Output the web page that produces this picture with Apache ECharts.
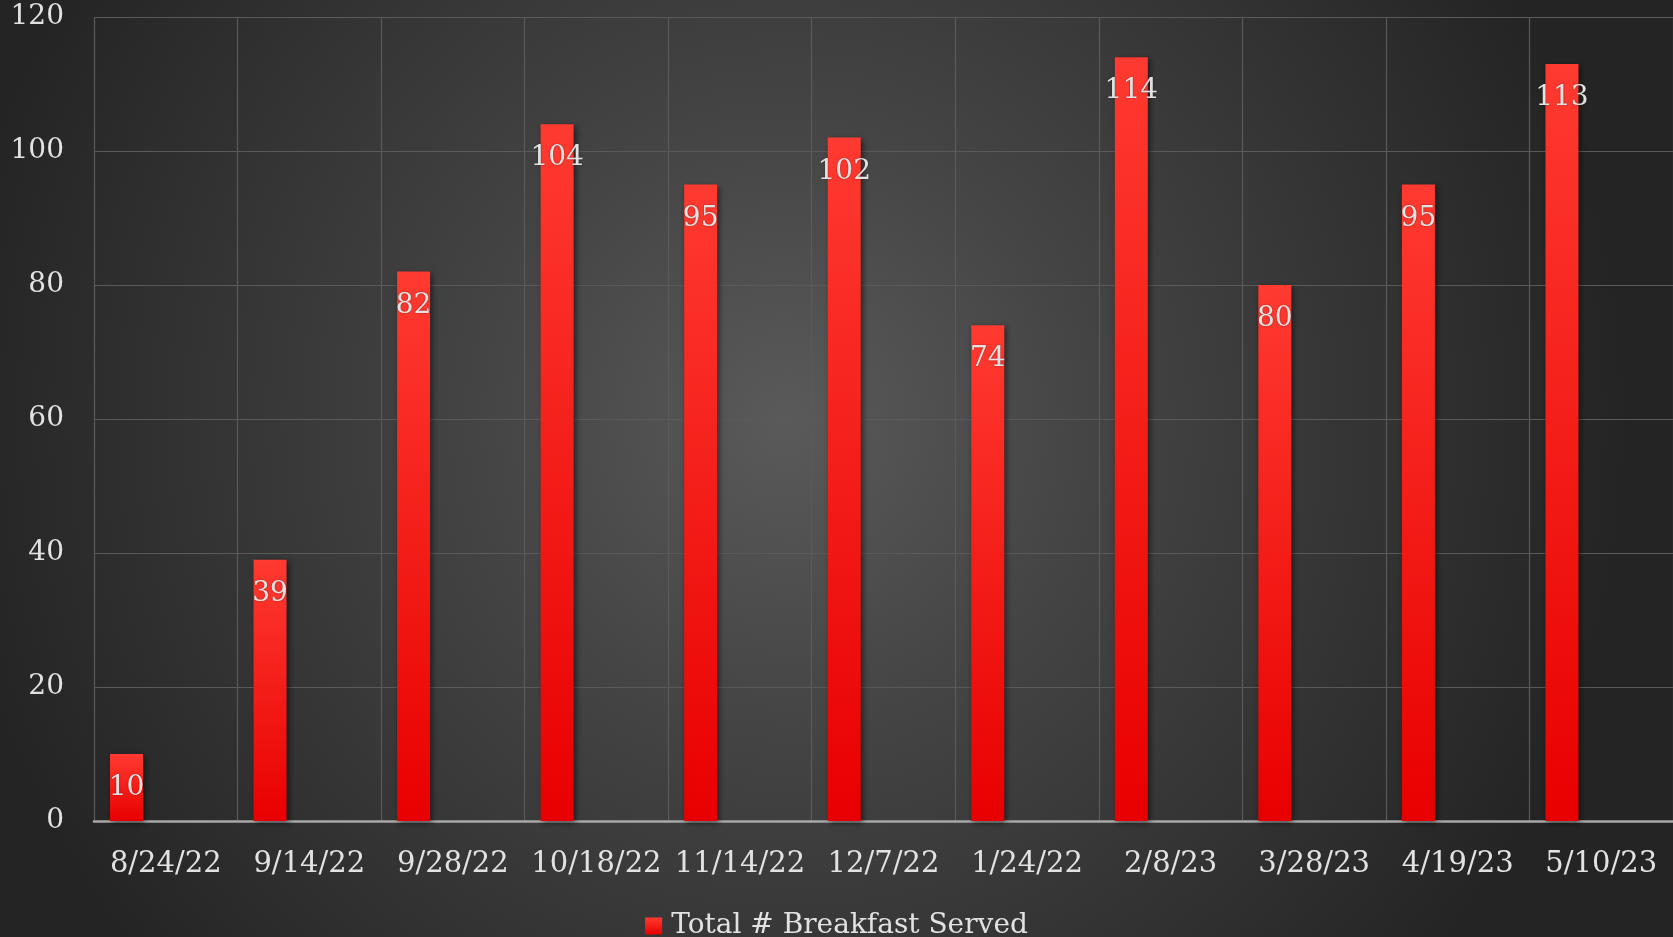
<!DOCTYPE html>
<html>
<head>
<meta charset="utf-8">
<title>Total # Breakfast Served</title>
<script src="https://cdn.jsdelivr.net/npm/echarts@6/dist/echarts.min.js"></script>
<style>
    html, body { margin: 0; padding: 0; background: #2a2a2a; }
    #bar1 { width: 1673px; height: 937px; }
</style>
</head>
<body>
<div id="bar1"></div>
<script>
// data
var categories = ['8/24/22', '9/14/22', '9/28/22', '10/18/22', '11/14/22', '12/7/22',
    '1/24/22', '2/8/23', '3/28/23', '4/19/23', '5/10/23'];
var breakfastServed = [10, 39, 82, 104, 95, 102, 74, 114, 80, 95, 113];
var yTicks = [0, 20, 40, 60, 80, 100, 120];
var seriesName = 'Total # Breakfast Served';

var myChart = echarts.init(document.getElementById('bar1'));

var fontFamily = '"DejaVu Serif", serif';
var textColor = '#e2e2e2';

var barColor = new echarts.graphic.LinearGradient(0, 0, 0, 1, [
    { offset: 0, color: '#ff3a30' },
    { offset: 1, color: '#e80000' }
]);

var option = {
    backgroundColor: new echarts.graphic.RadialGradient(0.47, 0.45, 0.9, [
        { offset: 0, color: '#5a5a5a' },
        { offset: 0.35, color: '#454545' },
        { offset: 1, color: '#242424' }
    ]),
    textStyle: {
        fontFamily: fontFamily
    },
    legend: {
        data: [seriesName],   // the empty spacer series stays out of the legend
        bottom: -8,
        left: 'center',
        itemWidth: 17,
        itemHeight: 17,
        itemGap: 8,
        icon: 'rect',
        textStyle: {
            color: textColor,
            fontSize: 28,
            fontFamily: fontFamily,
            padding: [0, 0, 0, 4]
        }
    },
    grid: {
        top: 17,
        left: 94,
        right: 0,
        bottom: 116
    },
    xAxis: [
        {
            type: 'category',
            data: categories,
            axisTick: { show: false },
            axisLine: {
                lineStyle: { color: '#a8a8a8', width: 2.5 }
            },
            axisLabel: {
                color: textColor,
                fontSize: 29,
                margin: 29,
                interval: 0
            },
            splitLine: {
                show: true,
                interval: 0,
                lineStyle: { color: '#5a5a5a', width: 1.2 }
            }
        }
    ],
    yAxis: [
        {
            type: 'value',
            min: yTicks[0],
            max: yTicks[yTicks.length - 1],
            interval: yTicks[1] - yTicks[0],
            axisLine: { show: false },
            axisTick: { show: false },
            axisLabel: {
                color: textColor,
                fontSize: 28,
                margin: 30,
                padding: [6, 0, 0, 0]
            },
            splitLine: {
                lineStyle: { color: '#5a5a5a', width: 1.2 }
            }
        }
    ],
    series: [
        {
            name: seriesName,
            type: 'bar',
            barWidth: 33,
            barGap: '138%',
            data: breakfastServed,
            itemStyle: {
                color: barColor,
                shadowColor: 'rgba(0,0,0,0.55)',
                shadowBlur: 6,
                shadowOffsetX: 2,
                shadowOffsetY: 2
            },
            label: {
                show: true,
                position: 'insideTop',
                distance: 20,
                color: textColor,
                fontSize: 28,
                fontFamily: fontFamily,
                textShadowColor: 'rgba(0,0,0,0.4)',
                textShadowBlur: 2
            }
        },
        {
            // empty second slot, keeps the bars to the left of each band
            name: 'spacer',
            type: 'bar',
            barWidth: 33,
            data: categories.map(function () { return null; })
        }
    ]
};

myChart.setOption(option, true);
</script>
</body>
</html>
